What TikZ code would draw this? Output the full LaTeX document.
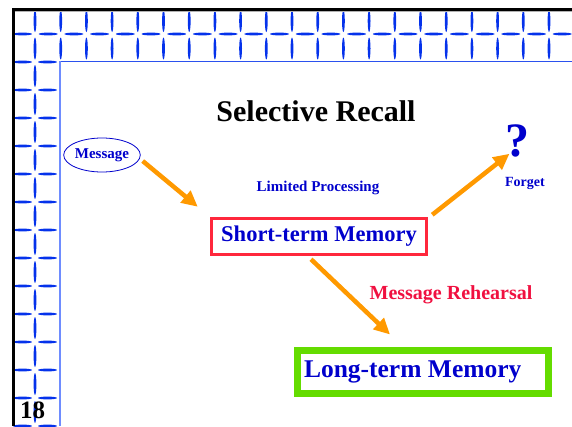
\documentclass[tikz,border=0pt]{standalone}
\usepackage{fontspec}
\setmainfont{Liberation Serif}
\usetikzlibrary{arrows.meta,shapes.geometric}

\definecolor{txtblue}{RGB}{0,0,204}
\definecolor{tileblue}{RGB}{5,50,235}
\definecolor{paleblue}{RGB}{110,140,255}
\definecolor{flowor}{RGB}{255,153,0}
\definecolor{boxred}{RGB}{255,40,60}
\definecolor{rehred}{RGB}{240,16,64}
\definecolor{boxgreen}{RGB}{100,220,0}

\tikzset{
  flow/.style={draw=flowor,line width=4.5pt,-{Triangle[length=16pt,width=15pt]}},
  lbl/.style={text=txtblue,font=\bfseries\fontsize{#1}{#1}\selectfont},
  hlens/.style={fill=tileblue},
}

\begin{document}
\begin{tikzpicture}[x=1pt,y=-1pt]
\useasboundingbox (0,0) rectangle (572,426);

% tiled frame
\begin{scope}
\clip (13,9) rectangle (572,426);
\foreach \i in {0,...,21} {
  \fill[hlens] (22.5+25.7*\i,34) ellipse (9.5pt and 1.4pt);
  \fill[hlens] (35+25.7*\i,21) ellipse (1.4pt and 11pt);
  \fill[hlens] (35+25.7*\i,48.5) ellipse (1.4pt and 11pt);
}
\foreach \j in {0,...,13} {
  \fill[hlens] (22.5,62+28*\j) ellipse (9.5pt and 1.4pt);
  \fill[hlens] (47.5,62+28*\j) ellipse (9.5pt and 1.4pt);
  \fill[hlens] (35,76+28*\j) ellipse (1.4pt and 11pt);
}
\end{scope}
\draw[line width=3pt] (13,426) -- (13,9) -- (572,9);
\draw[gray!60,line width=1pt] (14.5,11) -- (572,11);
\draw[tileblue!85,line width=1pt] (60,61) -- (572,61);
\draw[paleblue,line width=1.3pt] (60,61) -- (60,426);

% page number
\node[anchor=base west,inner sep=0,font=\bfseries\fontsize{25}{25}\selectfont] (pgno) at (20,418) {18};

% title
\node[font=\bfseries\fontsize{30}{30}\selectfont] (title) at (316,111) {Selective Recall};

% memory stages
\node[ellipse,draw=txtblue,line width=0.8pt,minimum width=75pt,minimum height=34pt,inner sep=0,lbl=15] (msg) at (102,155) {Message};
\node[lbl=15] (limit) at (318,188) {Limited Processing};
\node[draw=boxred,line width=2.5pt,minimum width=216pt,minimum height=37pt,inner sep=0,lbl=22.5] (stm) at (319,236.5) {Short-term Memory};
\draw[boxred,line width=0.8pt] ([shift={(3pt,-3pt)}]stm.north west) rectangle ([shift={(-3pt,3pt)}]stm.south east);
\node[lbl=48] (qm) at (517,141) {?};
\node[lbl=14] (forget) at (525,183) {Forget};
\node[text=rehred,font=\bfseries\fontsize{20}{20}\selectfont] (rehearse) at (451,295) {Message Rehearsal};
\node[draw=boxgreen,line width=7pt,minimum height=43pt,inner xsep=6.5pt,inner ysep=0,lbl=25.5] (ltm) at (423,372) {\makebox[238pt][l]{Long-term Memory}};

% arrows
\draw[flow] ([xshift=2pt,yshift=-6pt]msg.east) -- ([xshift=-12pt,yshift=10pt]stm.north west);
\draw[flow] ([xshift=4pt,yshift=2pt]stm.north east) -- ([xshift=8pt,yshift=7pt]qm.south west);
\draw[flow] ([xshift=-8pt,yshift=-3pt]stm.south) -- ([xshift=-33pt,yshift=12.5pt]ltm.north);
\end{tikzpicture}
\end{document}
